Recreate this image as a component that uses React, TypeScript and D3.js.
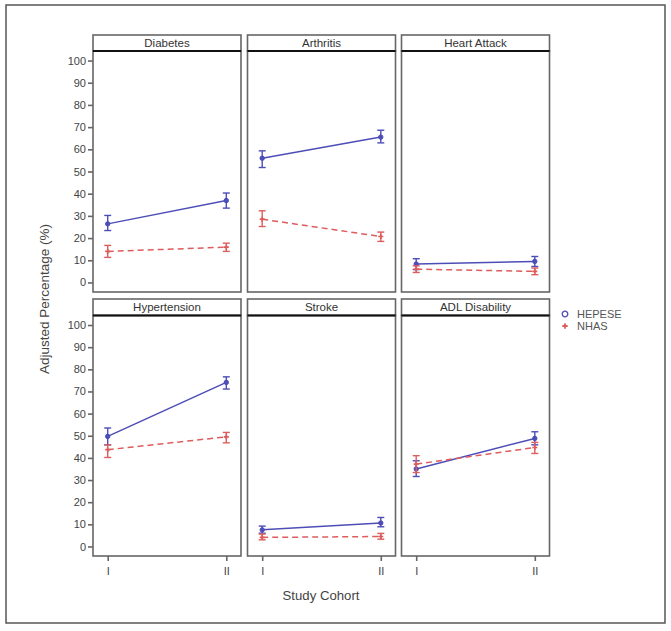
import React, { useEffect, useRef } from "react";
import * as d3 from "d3";

const panels = ["Diabetes", "Arthritis", "Heart Attack", "Hypertension", "Stroke", "ADL Disability"];
const cohorts = ["I", "II"];
const yTicks = [0, 10, 20, 30, 40, 50, 60, 70, 80, 90, 100];

// per panel: [cohort I, cohort II]
const hepeseMean = [[26.4, 36.9], [56.0, 65.5], [8.3, 9.5], [49.7, 74.1], [7.5, 10.6], [35.0, 48.8]];
const hepeseLow = [[23.4, 33.5], [51.8, 62.9], [5.8, 7.2], [45.9, 71.1], [6.0, 8.9], [31.6, 45.9]];
const hepeseHigh = [[30.2, 40.3], [59.3, 68.6], [10.7, 11.7], [53.5, 76.6], [9.2, 13.1], [38.7, 51.8]];

const nhasMean = [[14.0, 15.9], [28.5, 20.7], [6.0, 5.0], [43.7, 49.5], [4.1, 4.5], [37.2, 44.7]];
const nhasLow = [[11.3, 14.0], [25.2, 18.5], [4.5, 3.5], [40.2, 46.8], [3.0, 3.3], [33.4, 42.0]];
const nhasHigh = [[16.7, 17.7], [32.3, 22.7], [7.5, 6.5], [45.9, 51.5], [5.6, 5.9], [41.0, 47.0]];

const series = [
  { name: "HEPESE", mean: hepeseMean, low: hepeseLow, high: hepeseHigh, color: "#4d4db8", dash: null, marker: "circle" },
  { name: "NHAS", mean: nhasMean, low: nhasLow, high: nhasHigh, color: "#dd5c5c", dash: "6,4", marker: "plus" },
];

const App = () => {
  const svgRef = useRef<SVGSVGElement>(null);

  useEffect(() => {
    const svg = d3.select(svgRef.current);
    svg.selectAll("*").remove();

    const font = "Liberation Sans, Arial, sans-serif";
    const colX = [93, 247.5, 401.5];
    const panelW = 148;
    const rows = [
      { stripTop: 35, plotTop: 51, plotBottom: 292 },
      { stripTop: 299, plotTop: 315.5, plotBottom: 556 },
    ];

    // outer frame
    svg.append("rect")
      .attr("x", 6).attr("y", 5).attr("width", 659).attr("height", 618)
      .attr("fill", "none").attr("stroke", "#555").attr("stroke-width", 1.5);

    const x = d3.scalePoint<string>().domain(cohorts).range([0, panelW]).padding(0.124);

    panels.forEach((name, p) => {
      const r = Math.floor(p / 3);
      const c = p % 3;
      const row = rows[r];
      const left = colX[c];
      const y = d3.scaleLinear().domain([-4.3, 104.3]).range([row.plotBottom, row.plotTop]);

      const g = svg.append("g").attr("transform", `translate(${left},0)`);

      // strip
      g.append("rect")
        .attr("x", 0).attr("y", row.stripTop).attr("width", panelW).attr("height", row.plotTop - row.stripTop)
        .attr("fill", "#fff").attr("stroke", "#666").attr("stroke-width", 1.6);
      g.append("text")
        .attr("x", panelW / 2).attr("y", (row.stripTop + row.plotTop) / 2 + 4)
        .attr("text-anchor", "middle").attr("font-family", font).attr("font-size", 11.5).attr("fill", "#333")
        .text(name);

      // plot box
      g.append("rect")
        .attr("x", 0).attr("y", row.plotTop).attr("width", panelW).attr("height", row.plotBottom - row.plotTop)
        .attr("fill", "#fff").attr("stroke", "#666").attr("stroke-width", 1.6);
      g.append("line")
        .attr("x1", 0).attr("x2", panelW).attr("y1", row.plotTop).attr("y2", row.plotTop)
        .attr("stroke", "#111").attr("stroke-width", 2);

      if (c === 0) {
        const ax = g.append("g").call(d3.axisLeft(y).tickValues(yTicks).tickSize(5).tickPadding(2));
        ax.select(".domain").remove();
        ax.selectAll("line").attr("stroke", "#666").attr("stroke-width", 1.6);
        ax.selectAll("text").attr("font-family", font).attr("font-size", 11).attr("fill", "#444");
      }
      if (r === 1) {
        const ax = g.append("g").attr("transform", `translate(0,${row.plotBottom})`)
          .call(d3.axisBottom(x).tickSize(5).tickPadding(6));
        ax.select(".domain").remove();
        ax.selectAll("line").attr("stroke", "#666").attr("stroke-width", 1.6);
        ax.selectAll("text").attr("font-family", font).attr("font-size", 11).attr("fill", "#444");
      }

      series.forEach((s) => {
        const pts = cohorts.map((k, i) => ({ k, m: s.mean[p][i], lo: s.low[p][i], hi: s.high[p][i] }));
        const line = d3.line<any>().x((d) => x(d.k)!).y((d) => y(d.m));
        g.append("path")
          .datum(pts)
          .attr("fill", "none").attr("stroke", s.color).attr("stroke-width", 1.5)
          .attr("stroke-dasharray", s.dash).attr("d", line);

        pts.forEach((d) => {
          const cx = x(d.k)!;
          const eb = g.append("g").attr("stroke", s.color).attr("stroke-width", 1.4);
          eb.append("line").attr("x1", cx).attr("x2", cx).attr("y1", y(d.hi)).attr("y2", y(d.lo));
          eb.append("line").attr("x1", cx - 3.5).attr("x2", cx + 3.5).attr("y1", y(d.hi)).attr("y2", y(d.hi));
          eb.append("line").attr("x1", cx - 3.5).attr("x2", cx + 3.5).attr("y1", y(d.lo)).attr("y2", y(d.lo));
          if (s.marker === "circle") {
            g.append("circle").attr("cx", cx).attr("cy", y(d.m)).attr("r", 2.2)
              .attr("fill", s.color).attr("stroke", s.color);
          } else {
            g.append("path").attr("d", d3.symbol(d3.symbolCross, 14)()!)
              .attr("transform", `translate(${cx},${y(d.m)})`).attr("fill", s.color);
          }
        });
      });
    });

    // axis titles
    svg.append("text")
      .attr("transform", "translate(49,299) rotate(-90)")
      .attr("text-anchor", "middle").attr("font-family", font).attr("font-size", 13.5).attr("fill", "#444")
      .text("Adjusted Percentage (%)");
    svg.append("text")
      .attr("x", 321).attr("y", 600)
      .attr("text-anchor", "middle").attr("font-family", font).attr("font-size", 13.2).attr("fill", "#444")
      .text("Study Cohort");

    // legend
    const lg = svg.append("g").attr("transform", "translate(565,314)");
    series.forEach((s, i) => {
      const row = lg.append("g").attr("transform", `translate(0,${i * 12})`);
      if (s.marker === "circle") {
        row.append("circle").attr("r", 2.8).attr("fill", "none").attr("stroke", s.color).attr("stroke-width", 1.3);
      } else {
        row.append("path").attr("d", d3.symbol(d3.symbolCross, 16)()!).attr("fill", s.color);
      }
      row.append("text").attr("x", 12).attr("y", 4)
        .attr("font-family", font).attr("font-size", 11).attr("fill", "#555")
        .text(s.name);
    });
  }, []);

  return (
    <svg
      ref={svgRef}
      width={671}
      height={631}
      style={{ position: "absolute", left: 0, top: 0, background: "#fff" }}
    ></svg>
  );
};

export default App;
